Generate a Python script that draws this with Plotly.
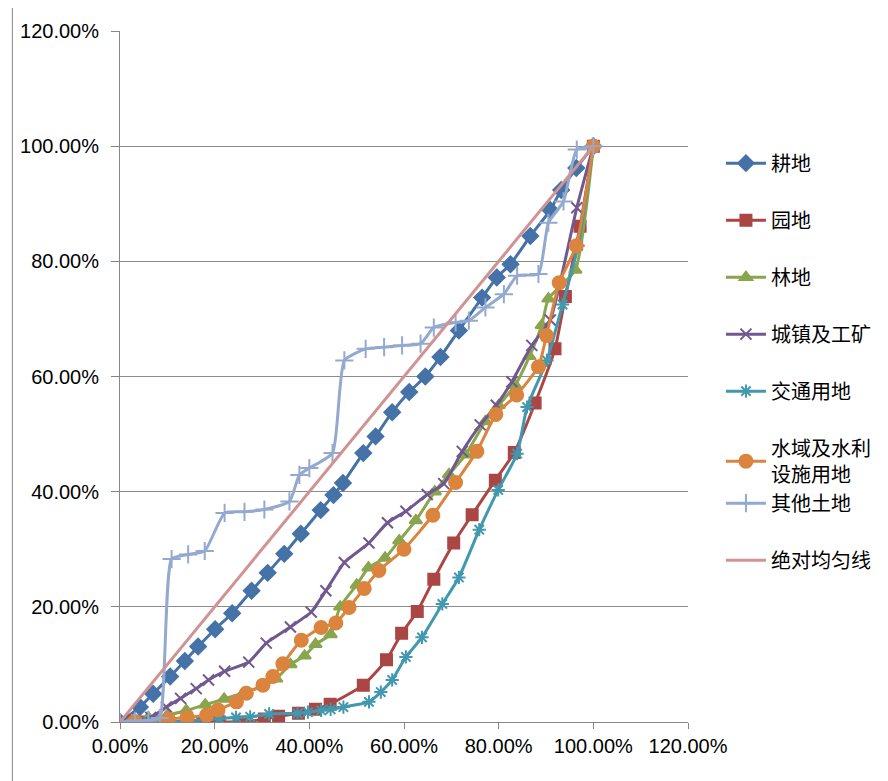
import plotly.graph_objects as go

# ---- data (percent) ----
names = ["耕地", "园地", "林地", "城镇及工矿", "交通用地", "水域及水利<br>设施用地", "其他土地", "绝对均匀线"]

gengdi_x = [0, 4.2, 7.0, 10.6, 13.7, 16.5, 20.1, 23.7, 27.8, 31.2, 34.7, 38.2, 42.4, 45.1, 47.1, 51.4, 54.0, 57.5,
            61.1, 64.5, 67.7, 71.6, 76.5, 79.6, 82.5, 86.7, 90.9, 93.2, 96.4, 100]
gengdi_y = [0, 2.6, 4.9, 7.9, 10.6, 13.1, 16.1, 18.9, 22.8, 25.9, 29.2, 32.7, 36.8, 39.4, 41.5, 46.7, 49.6, 53.8,
            57.3, 60.0, 63.4, 68.0, 73.7, 77.2, 79.5, 84.4, 88.9, 92.4, 96.2, 100]

yuandi_x = [2.9, 5.5, 9.5, 14.0, 17.5, 21.0, 25.5, 30.5, 33.5, 37.7, 41.3, 44.4, 51.4, 56.3, 59.5, 62.8, 66.3,
            70.5, 74.4, 79.3, 83.3, 87.7, 91.9, 94.1, 97.2, 100]
yuandi_y = [0, 0, 0, 0, 0, 0, 0, 0.5, 1.0, 1.5, 2.2, 3.1, 6.4, 10.8, 15.4, 19.2, 24.8,
            31.1, 36.0, 42.0, 46.8, 55.4, 64.8, 73.9, 86.1, 100]

lindi_x = [2.5, 6.0, 10.0, 14.0, 18.0, 22.0, 26.0, 30.0, 33.0, 36.0, 39.0, 41.3, 44.5, 46.5, 50.0, 52.5, 56.0,
           59.0, 62.5, 66.5, 69.5, 73.0, 77.2, 80.0, 83.5, 86.5, 89.1, 90.5, 96.2, 100]
lindi_y = [0.3, 0.8, 1.2, 2.0, 3.0, 4.0, 5.0, 6.2, 7.5, 10.0, 11.5, 13.5, 15.2, 20.0, 23.8, 26.8, 28.5,
           31.5, 35.0, 40.0, 43.0, 46.4, 52.2, 55.0, 58.5, 63.5, 68.9, 73.5, 78.5, 100]

chengzhen_x = [3.0, 6.5, 9.8, 12.8, 16.1, 18.7, 22.1, 27.2, 30.9, 36.0, 40.4, 43.5, 47.4, 52.6, 56.5, 60.4,
               64.9, 68.4, 72.3, 76.1, 79.5, 82.8, 87.0, 90.9, 96.5, 100]
chengzhen_y = [0.3, 0.8, 2.6, 4.1, 5.8, 7.3, 8.8, 10.4, 13.7, 16.5, 19.1, 22.8, 27.7, 31.1, 34.6, 36.6,
               39.5, 41.4, 47.0, 51.6, 55.0, 59.1, 65.4, 69.8, 89.3, 100]

jiaotong_x = [3.0, 6.0, 10.0, 14.0, 18.0, 21.0, 24.5, 27.5, 31.5, 37.5, 39.7, 42.5, 44.5, 47.2, 52.6, 55.1, 57.5,
              60.4, 63.8, 68.1, 71.6, 75.9, 79.9, 83.9, 86.0, 90.2, 93.5, 96.8, 100]
jiaotong_y = [0, 0, 0, 0.2, 0.4, 0.6, 0.8, 0.9, 1.4, 1.5, 1.7, 2.0, 2.2, 2.6, 3.5, 5.2, 7.3,
              11.3, 14.7, 20.5, 25.1, 33.4, 40.3, 46.6, 54.7, 62.8, 72.5, 82.7, 100]

shuiyu_x = [3.2, 10.2, 14.2, 18.3, 20.7, 24.6, 26.7, 30.2, 32.3, 34.4, 38.3, 42.5, 45.6, 48.4, 51.6, 54.7,
            60.0, 66.1, 70.9, 75.4, 79.4, 83.8, 88.4, 90.1, 92.8, 96.4, 100]
shuiyu_y = [0.1, 0.5, 0.8, 1.2, 2.1, 3.5, 5.0, 6.4, 7.9, 10.1, 14.2, 16.4, 17.2, 19.9, 23.2, 26.3,
            30.0, 35.9, 41.6, 47.0, 53.4, 56.8, 61.7, 67.1, 76.3, 82.7, 100]

qita_x = [0, 3.2, 6.0, 8.4, 10.9, 14.4, 17.9, 22.1, 26.3, 30.5, 35.8, 37.9, 40.0, 44.9, 47.4, 51.9, 55.8, 59.6,
          63.5, 66.3, 70.9, 73.7, 77.2, 81.1, 83.9, 88.4, 90.5, 93.7, 96.5, 100]
qita_y = [0, 0.2, 0.3, 0.7, 28.3, 29.1, 29.7, 36.3, 36.5, 36.9, 38.3, 42.9, 44.1, 46.7, 62.8, 64.8, 65.1, 65.4,
          65.7, 68.5, 69.4, 69.7, 72.0, 74.3, 77.5, 77.8, 86.7, 90.4, 99.4, 100]

junyun_x = [0, 20, 40, 60, 80, 100]
junyun_y = [0, 20, 40, 60, 80, 100]

tick_vals = [0, 20, 40, 60, 80, 100, 120]
tick_text = ["0.00%", "20.00%", "40.00%", "60.00%", "80.00%", "100.00%", "120.00%"]

series = [
    (gengdi_x, gengdi_y, "#4572A7", "diamond", 12, "g0"),
    (yuandi_x, yuandi_y, "#AA4643", "square", 11, "g1"),
    (lindi_x, lindi_y, "#89A54E", "triangle-up", 11, "g2"),
    (chengzhen_x, chengzhen_y, "#71588F", "x-thin-open", 11, "g3"),
    (jiaotong_x, jiaotong_y, "#4198AF", "asterisk-open", 11, "g4"),
    (shuiyu_x, shuiyu_y, "#DB843D", "circle", 13, "g5"),
    (qita_x, qita_y, "#93A9CF", "cross-thin-open", 13, "g5"),
    (junyun_x, junyun_y, "#D19392", None, 0, "g7"),
]

fig = go.Figure()
for i, (xs, ys, col, sym, sz, grp) in enumerate(series):
    if sym is None:
        fig.add_trace(go.Scatter(x=xs, y=ys, name=names[i], mode="lines",
                                 line=dict(color=col, width=3), legendgroup=grp))
    else:
        fig.add_trace(go.Scatter(
            x=xs, y=ys, name=names[i], mode="lines+markers",
            line=dict(color=col, width=3, shape="spline", smoothing=0.5),
            marker=dict(symbol=sym, size=sz, color=col, line=dict(color=col, width=2)),
            legendgroup=grp))

axis_font = dict(family="Liberation Sans, Arial, sans-serif", size=20, color="#000000")
fig.update_layout(
    width=880, height=773,
    margin=dict(l=112, r=198, t=19, b=59),
    paper_bgcolor="white", plot_bgcolor="white",
    font=dict(family="Liberation Sans, Noto Sans CJK SC, sans-serif", size=20, color="#000"),
    showlegend=True,
    legend=dict(x=1.058, y=0.837, xanchor="left", yanchor="top",
                font=dict(family="Liberation Sans, Noto Sans CJK SC, sans-serif", size=20, color="#000"),
                tracegroupgap=28, itemwidth=40, bgcolor="rgba(0,0,0,0)"),
    xaxis=dict(range=[0, 120], tickvals=tick_vals, ticktext=tick_text, showgrid=False,
               zeroline=False, showline=True, linecolor="#868686", linewidth=1,
               ticks="outside", ticklen=6, tickcolor="#868686", tickfont=axis_font),
    yaxis=dict(range=[0, 120], tickvals=tick_vals, ticktext=tick_text, showgrid=True,
               gridcolor="#8c8c8c", gridwidth=1, zeroline=False, showline=True,
               linecolor="#868686", linewidth=1, ticks="outside", ticklen=8,
               tickcolor="#868686", tickfont=axis_font, ticklabelstandoff=8),
    shapes=[dict(type="line", xref="paper", yref="paper", x0=-0.1895, x1=-0.1895, y0=-0.1, y1=1.1,
                 line=dict(color="#868686", width=1))],
)

fig.write_html("out.html")
